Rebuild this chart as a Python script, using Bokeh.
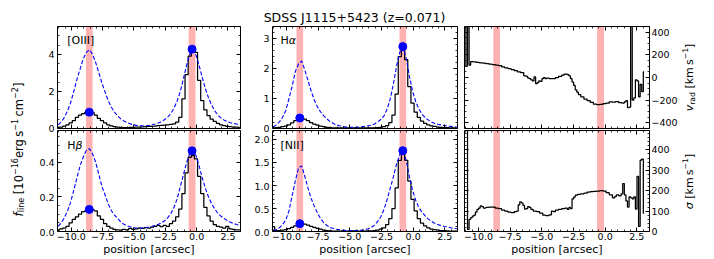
import math
from bokeh.plotting import figure
from bokeh.models import Range1d, LinearAxis, FixedTicker, Label, BoxAnnotation, CustomJSTickFormatter
from bokeh.layouts import row, column
from bokeh.embed import file_html
from bokeh.resources import INLINE

FONT = "DejaVu Sans"

# ---------------- data ----------------
pos = [-11.05, -10.8, -10.55, -10.3, -10.05, -9.8, -9.55, -9.3, -9.05, -8.8,
       -8.55, -8.3, -8.05, -7.8, -7.55, -7.3, -7.05, -6.8, -6.55, -6.3,
       -6.05, -5.8, -5.55, -5.3, -5.05, -4.8, -4.55, -4.3, -4.05, -3.8,
       -3.55, -3.3, -3.05, -2.8, -2.55, -2.3, -2.05, -1.8, -1.55, -1.3,
       -1.05, -0.8, -0.55, -0.3, -0.05, 0.2, 0.45, 0.7, 0.95, 1.2,
       1.45, 1.7, 1.95, 2.2, 2.45, 2.7, 2.95, 3.2, 3.45]

oiii_obs = [0.05, 0.08, 0.13, 0.20, 0.30, 0.42, 0.60, 0.72, 0.80, 0.87,
            0.90, 0.85, 0.72, 0.55, 0.42, 0.30, 0.20, 0.14, 0.10, 0.07,
            0.06, 0.05, 0.05, 0.06, 0.06, 0.07, 0.08, 0.09, 0.10, 0.11,
            0.12, 0.13, 0.15, 0.17, 0.18, 0.20, 0.22, 0.25, 0.35, 0.60,
            1.60, 2.90, 3.90, 4.20, 4.10, 2.60, 1.50, 1.00, 0.70, 0.50,
            0.38, 0.28, 0.20, 0.15, 0.12, 0.10, 0.08, 0.07, 0.06]
oiii_mod = [0.20, 0.35, 0.60, 0.95, 1.40, 2.00, 2.65, 3.20, 3.75, 4.10,
            4.25, 4.00, 3.55, 3.00, 2.45, 1.95, 1.50, 1.15, 0.88, 0.68,
            0.52, 0.40, 0.32, 0.25, 0.20, 0.17, 0.15, 0.14, 0.15, 0.17,
            0.20, 0.24, 0.30, 0.38, 0.48, 0.62, 0.82, 1.10, 1.50, 2.00,
            2.70, 3.40, 4.00, 4.25, 3.95, 3.40, 2.75, 2.15, 1.65, 1.25,
            0.95, 0.72, 0.56, 0.45, 0.37, 0.31, 0.27, 0.24, 0.22]
ha_obs = [0.02, 0.03, 0.04, 0.06, 0.08, 0.12, 0.19, 0.26, 0.33, 0.35,
          0.31, 0.26, 0.20, 0.15, 0.11, 0.08, 0.06, 0.04, 0.03, 0.02,
          0.02, 0.02, 0.02, 0.02, 0.02, 0.02, 0.02, 0.02, 0.02, 0.02,
          0.02, 0.02, 0.02, 0.03, 0.04, 0.06, 0.10, 0.20, 0.45, 1.15,
          2.40, 2.70, 2.30, 1.40, 0.85, 0.55, 0.37, 0.25, 0.17, 0.12,
          0.09, 0.07, 0.05, 0.04, 0.03, 0.03, 0.02, 0.02, 0.02]
ha_mod = [0.05, 0.12, 0.22, 0.38, 0.60, 1.00, 1.40, 1.90, 2.15, 2.25,
          1.95, 1.60, 1.25, 0.95, 0.72, 0.55, 0.42, 0.32, 0.23, 0.17,
          0.12, 0.09, 0.07, 0.05, 0.04, 0.04, 0.04, 0.05, 0.06, 0.07,
          0.09, 0.11, 0.15, 0.22, 0.30, 0.42, 0.65, 1.00, 1.50, 2.10,
          2.55, 2.70, 2.35, 1.75, 1.25, 0.90, 0.65, 0.48, 0.36, 0.28,
          0.22, 0.17, 0.14, 0.12, 0.10, 0.08, 0.07, 0.06, 0.05]
hb_obs = [0.010, 0.015, 0.020, 0.030, 0.050, 0.070, 0.085, 0.100, 0.115, 0.120,
          0.130, 0.125, 0.120, 0.090, 0.070, 0.045, 0.030, 0.020, 0.012, 0.010,
          0.008, 0.012, 0.010, 0.018, 0.012, 0.015, 0.020, 0.018, 0.022, 0.020,
          0.025, 0.030, 0.035, 0.028, 0.035, 0.030, 0.045, 0.060, 0.085, 0.130,
          0.220, 0.340, 0.430, 0.440, 0.420, 0.320, 0.220, 0.140, 0.090, 0.060,
          0.040, 0.030, 0.025, 0.020, 0.030, 0.015, 0.012, 0.010, 0.010]
hb_mod = [0.030, 0.050, 0.080, 0.120, 0.170, 0.240, 0.310, 0.380, 0.430, 0.470,
          0.480, 0.450, 0.400, 0.330, 0.260, 0.210, 0.160, 0.120, 0.095, 0.075,
          0.055, 0.042, 0.033, 0.027, 0.022, 0.020, 0.020, 0.021, 0.023, 0.026,
          0.030, 0.035, 0.042, 0.050, 0.062, 0.080, 0.105, 0.140, 0.190, 0.260,
          0.330, 0.400, 0.450, 0.470, 0.440, 0.380, 0.310, 0.250, 0.200, 0.160,
          0.130, 0.105, 0.088, 0.075, 0.063, 0.054, 0.046, 0.040, 0.035]
nii_obs = [0.10, 0.02, 0.02, 0.03, 0.04, 0.06, 0.09, 0.12, 0.15, 0.17,
           0.16, 0.14, 0.11, 0.09, 0.07, 0.05, 0.03, 0.02, 0.015, 0.01,
           0.01, 0.01, 0.012, 0.01, 0.01, 0.012, 0.01, 0.01, 0.012, 0.01,
           0.012, 0.015, 0.02, 0.03, 0.05, 0.08, 0.15, 0.28, 0.50, 0.95,
           1.55, 1.72, 1.55, 1.10, 0.70, 0.45, 0.28, 0.18, 0.12, 0.08,
           0.05, 0.04, 0.03, 0.02, 0.02, 0.015, 0.01, 0.01, 0.01]
nii_mod = [0.02, 0.04, 0.08, 0.15, 0.25, 0.45, 0.78, 1.10, 1.38, 1.43,
           1.20, 0.95, 0.72, 0.55, 0.40, 0.28, 0.19, 0.13, 0.09, 0.065,
           0.05, 0.04, 0.03, 0.025, 0.022, 0.02, 0.022, 0.025, 0.03, 0.04,
           0.06, 0.09, 0.14, 0.22, 0.32, 0.48, 0.70, 0.95, 1.20, 1.48,
           1.68, 1.75, 1.55, 1.20, 0.90, 0.68, 0.52, 0.42, 0.34, 0.27,
           0.22, 0.18, 0.15, 0.13, 0.11, 0.10, 0.08, 0.07, 0.06]

vrad_pos = [-11.05, -10.925, -10.8, -10.675, -10.55, -10.3, -10.05, -9.8, -9.55, -9.3,
            -9.05, -8.8, -8.55, -8.3, -8.05, -7.8, -7.55, -7.3, -7.05, -6.8,
            -6.55, -6.3, -6.175, -6.05, -5.925, -5.8, -5.675, -5.55, -5.425, -5.3,
            -5.175, -5.05, -4.925, -4.8, -4.675, -4.55, -4.3, -4.05, -3.8, -3.55,
            -3.3, -3.175, -3.05, -2.925, -2.8, -2.675, -2.55, -2.425, -2.3, -2.175,
            -2.05, -1.8, -1.55, -1.3, -1.05, -0.8, -0.55, -0.3, -0.05, 0.2,
            0.45, 0.7, 0.95, 1.2, 1.45, 1.575, 1.7, 1.825, 1.95, 2.075,
            2.2, 2.325, 2.45, 2.575, 2.7, 2.825, 2.95, 3.075]
vrad = [520, 100, 480, 110, 140, 138, 133, 130, 127, 123,
        118, 114, 110, 104, 93, 85, 78, 70, 60, 50,
        42, 15, 10, -5, -10, -20, -30, 5, -55, -45,
        -30, -35, -10, 0, -10, -5, -10, -10, 0, 10,
        20, 30, 30, 25, 15, -10, -40, -70, -110, -130,
        -150, -170, -190, -205, -220, -235, -240, -238, -230, -225,
        -215, -218, -212, -222, -225, -215, -205, -265, -262, 520,
        -200, -180, -20, -30, -170, -60, -125, 50]

sig_pos = [-11.05, -10.925, -10.8, -10.675, -10.55, -10.425, -10.3, -10.175, -10.05, -9.925,
           -9.8, -9.675, -9.55, -9.3, -9.05, -8.8, -8.55, -8.3, -8.05, -7.8,
           -7.55, -7.3, -7.05, -6.925, -6.8, -6.675, -6.55, -6.425, -6.3, -6.175,
           -6.05, -5.925, -5.8, -5.55, -5.3, -5.05, -4.8, -4.55, -4.3, -4.175,
           -4.05, -3.8, -3.55, -3.3, -3.05, -2.925, -2.8, -2.675, -2.55, -2.425,
           -2.3, -2.05, -1.8, -1.55, -1.3, -1.05, -0.8, -0.55, -0.3, -0.05,
           0.2, 0.45, 0.7, 0.825, 0.95, 1.2, 1.325, 1.45, 1.575, 1.7,
           1.825, 1.95, 2.075, 2.2, 2.325, 2.45, 2.575, 2.7, 2.825, 2.95,
           3.075]
sigma = [560, 520, 10, 60, 68, 75, 80, 95, 108, 115,
         125, 122, 115, 118, 120, 120, 115, 112, 105, 100,
         95, 92, 98, 100, 130, 145, 140, 128, 110, 112,
         122, 118, 108, 100, 98, 90, 80, 78, 82, 100,
         98, 105, 108, 112, 115, 108, 118, 112, 160, 168,
         178, 182, 185, 188, 193, 196, 197, 198, 200, 198,
         190, 180, 165, 172, 180, 175, 185, 235, 180, 150,
         120, 170, 165, 160, 170, 110, 270, 25, 350, 355,
         90]

# apertures (shaded) and aperture fluxes (dots)
band_left_a = [-8.83, -0.64]
band_right_a = [-8.30, -0.09]
band_left_b = [-9.21, -1.08]
band_right_b = [-8.68, -0.55]
dot_x_a = [-8.565, -0.365]
dot_x_b = [-8.945, -0.815]
oiii_dot = [0.88, 4.28]
ha_dot = [0.35, 2.73]
hb_dot = [0.128, 0.467]
nii_dot = [0.17, 1.76]

x_major = [-10, -7.5, -5, -2.5, 0, 2.5]
x_minor = [-11, -10.5, -10, -9.5, -9, -8.5, -8, -7.5, -7, -6.5, -6, -5.5, -5, -4.5, -4,
           -3.5, -3, -2.5, -2, -1.5, -1, -0.5, 0, 0.5, 1, 1.5, 2, 2.5, 3, 3.5]
x_labels = {-10: "\u221210.0", -7.5: "\u22127.5", -5: "\u22125.0", -2.5: "\u22122.5",
            0: "0.0", 2.5: "2.5"}
XR = (-11.1, 3.5)

oiii_yr = (0, 5.5)
oiii_ymaj = [0, 2, 4]
oiii_ymin = [0.5, 1, 1.5, 2, 2.5, 3, 3.5, 4, 4.5, 5, 5.5]
oiii_ylab = {0: "0", 2: "2", 4: "4"}
ha_yr = (0, 3.4)
ha_ymaj = [0, 1, 2, 3]
ha_ymin = [0.2, 0.4, 0.6, 0.8, 1.2, 1.4, 1.6, 1.8, 2.2, 2.4, 2.6, 2.8, 3.2]
ha_ylab = {0: "0", 1: "1", 2: "2", 3: "3"}
hb_yr = (0, 0.585)
hb_ymaj = [0.0, 0.2, 0.4]
hb_ymin = [0.05, 0.1, 0.15, 0.25, 0.3, 0.35, 0.45, 0.5, 0.55]
hb_ylab = {0.0: "0.0", 0.2: "0.2", 0.4: "0.4"}
nii_yr = (0, 2.2)
nii_ymaj = [0.0, 0.5, 1.0, 1.5, 2.0]
nii_ymin = [0.1, 0.2, 0.3, 0.4, 0.6, 0.7, 0.8, 0.9, 1.1, 1.2, 1.3, 1.4, 1.6, 1.7, 1.8, 1.9, 2.1]
nii_ylab = {0.0: "0.0", 0.5: "0.5", 1.0: "1.0", 1.5: "1.5", 2.0: "2.0"}
v_yr = (-450, 450)
v_ymaj = [-400, -200, 0, 200, 400]
v_ymin = [-450, -350, -300, -250, -150, -100, -50, 50, 100, 150, 250, 300, 350, 450]
v_ylab = {-400: "\u2212400", -200: "\u2212200", 0: "0", 200: "200", 400: "400"}
s_yr = (0, 495)
s_ymaj = [0, 100, 200, 300, 400]
s_ymin = [20, 40, 60, 80, 120, 140, 160, 180, 220, 240, 260, 280, 320, 340, 360, 380, 420, 440, 460, 480]
s_ylab = {0: "0", 100: "100", 200: "200", 300: "300", 400: "400"}

# ---------------- geometry (pixels) ----------------
W_TOTAL = 713
TITLE_H = 25
TOP_T, TOP_B = 1, 1
BOT_T, BOT_B = 1, 26
FH = 102
FW_A, FW_B, FW_C = 183, 185, 186
LEFT_W, MID_W = 56, 28
A_L, A_R = 1, 2
B_L, B_R = 2, 3
C_L, C_R = 4, 30
RIGHT_W = W_TOTAL - (LEFT_W + A_L + FW_A + A_R + MID_W + B_L + FW_B + B_R + C_L + FW_C + C_R)
STRIP_H = TOP_T + FH + TOP_B + BOT_T + FH + BOT_B
TOP_FRAME_BOTTOM = TOP_T + FH
BOT_FRAME_BOTTOM = TOP_T + FH + TOP_B + BOT_T + FH
TICK_FS = "9.5px"
LAB_FS = 11.0

# ---------------- helpers ----------------
CW = {' ': 0.318, '[': 0.390, ']': 0.390, '\u2212': 0.838, 'k': 0.579, 'm': 0.974,
      's': 0.521, 'e': 0.615, 'r': 0.411, 'g': 0.635, 'c': 0.550, 'a': 0.613,
      'd': 0.635, 'l': 0.278, 'i': 0.278, 'n': 0.634, 'f': 0.352, 'v': 0.592,
      '\u03c3': 0.634, '\u2009': 0.200, 'H': 0.752}
for ch in "0123456789":
    CW[ch] = 0.636


def tw(s, size):
    return sum(CW.get(c, 0.6) for c in s) * size


def add_pieces(p, x, y, pieces, rotated=False, dx=0.0, dy=0.0):
    along = 0.0
    for text, size, italic, shift in pieces:
        lead = len(text) - len(text.lstrip(" "))
        along += lead * CW[" "] * size       # leading blanks become an offset
        text = text.lstrip(" ")
        if rotated:
            xo, yo = dx + shift, dy + along
        else:
            xo, yo = dx + along, dy - shift
        p.add_layout(Label(x=x, y=y, x_offset=xo, y_offset=yo, text=text,
                           angle=(math.pi / 2 if rotated else 0.0),
                           text_align="left", text_baseline="alphabetic",
                           text_font=FONT, text_font_size=f"{size:.2f}px",
                           text_font_style=("italic" if italic else "normal"),
                           text_color="black"))
        along += tw(text, size)
    return along


def add_axis(p, side, major, minor, labels=None, axis_label=None):
    ax = LinearAxis(ticker=FixedTicker(ticks=major, minor_ticks=minor))
    ax.axis_line_color = None
    ax.major_tick_in = 4
    ax.major_tick_out = 0
    ax.minor_tick_in = 2
    ax.minor_tick_out = 0
    ax.major_tick_line_color = "black"
    ax.minor_tick_line_color = "black"
    ax.major_tick_line_width = 1
    ax.minor_tick_line_width = 0.8
    if labels is None:
        ax.formatter = CustomJSTickFormatter(code="return ''")
        ax.major_label_text_font_size = "0px"
        ax.major_label_text_color = None
        ax.major_label_standoff = 0
    else:
        ax.major_label_overrides = labels
        ax.major_label_text_font = FONT
        ax.major_label_text_font_size = TICK_FS
        ax.major_label_text_color = "black"
        ax.major_label_standoff = 1 if side == "below" else 2
    if axis_label is not None:
        ax.axis_label = axis_label
        ax.axis_label_text_font = FONT
        ax.axis_label_text_font_size = "11px"
        ax.axis_label_text_font_style = "normal"
        ax.axis_label_text_color = "black"
        ax.axis_label_standoff = 0
    p.add_layout(ax, side)


def make_fig(fw, mbl, mbr, mbt, mbb, yr):
    p = figure(width=mbl + fw + mbr, height=mbt + FH + mbb,
               x_range=Range1d(*XR), y_range=Range1d(*yr),
               x_axis_location=None, y_axis_location=None,
               toolbar_location=None, output_backend="svg",
               min_border_left=mbl, min_border_right=mbr,
               min_border_top=mbt, min_border_bottom=mbb)
    p.grid.visible = False
    p.outline_line_color = "black"
    p.outline_line_width = 1
    p.background_fill_color = "white"
    p.border_fill_color = "white"
    return p


def make_blank(w, h):
    p = figure(width=w, height=h, x_range=Range1d(0, w), y_range=Range1d(0, h),
               x_axis_location=None, y_axis_location=None, toolbar_location=None,
               output_backend="svg", min_border=0)
    p.grid.visible = False
    p.outline_line_color = None
    p.background_fill_color = "white"
    p.border_fill_color = "white"
    return p


def shade(p, bl, br):
    for l, r in zip(bl, br):
        p.add_layout(BoxAnnotation(left=l, right=r, fill_color="red", fill_alpha=0.3,
                                   line_color=None, level="underlay"))


def flux_panel(p, obs, mod, dx, dy, bl, br):
    shade(p, bl, br)
    p.step(pos, obs, mode="center", line_color="black", line_width=1.25)
    p.line(pos, mod, line_color="blue", line_dash="4 2", line_width=1.1)
    p.scatter(dx, dy, size=8, fill_color="blue", line_color="blue")


def frame_axes(p, ymaj, ymin, right_labels=None, bottom_labels=None):
    add_axis(p, "left", ymaj, ymin)
    add_axis(p, "right", ymaj, ymin, right_labels)
    add_axis(p, "above", x_major, x_minor)
    if bottom_labels is None:
        add_axis(p, "below", x_major, x_minor)
    else:
        add_axis(p, "below", x_major, x_minor, bottom_labels, "position [arcsec]")


def tick_labels(strip, x_right, frame_bottom_from_top, yr, major, labels):
    # y tick labels of a panel, drawn in the strip next to it
    ppu = FH / (yr[1] - yr[0])
    for v in major:
        y_from_top = frame_bottom_from_top - (v - yr[0]) * ppu
        strip.add_layout(Label(x=x_right, y=STRIP_H - y_from_top, text=labels[v],
                               text_align="right", text_baseline="middle",
                               text_font=FONT, text_font_size=TICK_FS,
                               text_color="black"))


# ---------------- title ----------------
title = make_blank(W_TOTAL, TITLE_H)
title.add_layout(Label(x=354, y=TITLE_H - 16.7, text="SDSS J1115+5423 (z=0.071)",
                       text_align="center", text_baseline="alphabetic",
                       text_font=FONT, text_font_size="12.5px", text_color="black"))

# ---------------- panels ----------------
pA = make_fig(FW_A, A_L, A_R, TOP_T, TOP_B, oiii_yr)
flux_panel(pA, oiii_obs, oiii_mod, dot_x_a, oiii_dot, band_left_a, band_right_a)
frame_axes(pA, oiii_ymaj, oiii_ymin)

pB = make_fig(FW_B, B_L, B_R, TOP_T, TOP_B, ha_yr)
flux_panel(pB, ha_obs, ha_mod, dot_x_b, ha_dot, band_left_b, band_right_b)
frame_axes(pB, ha_ymaj, ha_ymin)

pC = make_fig(FW_C, C_L, C_R, TOP_T, TOP_B, v_yr)
shade(pC, band_left_a, band_right_a)
pC.step(vrad_pos, vrad, mode="center", line_color="black", line_width=1.25)
frame_axes(pC, v_ymaj, v_ymin, right_labels=v_ylab)

pD = make_fig(FW_A, A_L, A_R, BOT_T, BOT_B, hb_yr)
flux_panel(pD, hb_obs, hb_mod, dot_x_a, hb_dot, band_left_a, band_right_a)
frame_axes(pD, hb_ymaj, hb_ymin, bottom_labels=x_labels)

pE = make_fig(FW_B, B_L, B_R, BOT_T, BOT_B, nii_yr)
flux_panel(pE, nii_obs, nii_mod, dot_x_b, nii_dot, band_left_b, band_right_b)
frame_axes(pE, nii_ymaj, nii_ymin, bottom_labels=x_labels)

pF = make_fig(FW_C, C_L, C_R, BOT_T, BOT_B, s_yr)
shade(pF, band_left_a, band_right_a)
pF.step(sig_pos, sigma, mode="center", line_color="black", line_width=1.25)
frame_axes(pF, s_ymaj, s_ymin, right_labels=s_ylab, bottom_labels=x_labels)

# panel names (offsets in pixels from the top-left frame corner)
add_pieces(pA, XR[0], oiii_yr[1], [("[OIII]", LAB_FS, False, 0)], dx=9.7, dy=-14.3)
add_pieces(pB, XR[0], ha_yr[1], [("H", LAB_FS, False, 0), ("\u03b1", LAB_FS, True, 0)], dx=8.0, dy=-13.5)
add_pieces(pD, XR[0], hb_yr[1], [("H", LAB_FS, False, 0), ("\u03b2", LAB_FS, True, 0)], dx=9.7, dy=-14.5)
add_pieces(pE, XR[0], nii_yr[1], [("[NII]", LAB_FS, False, 0)], dx=8.0, dy=-14.5)

# ---------------- left strip: shared y label + tick labels of A and D ----------------
left = make_blank(LEFT_W, STRIP_H)
tick_labels(left, LEFT_W - 2 + A_L - 1, TOP_FRAME_BOTTOM, oiii_yr, oiii_ymaj, oiii_ylab)
tick_labels(left, LEFT_W - 2 + A_L - 1, BOT_FRAME_BOTTOM, hb_yr, hb_ymaj, hb_ylab)
FL = 11.5
fl_pieces = [("f", FL, True, 0), ("line", 0.7 * FL, False, 2.5), (" [10", FL, False, 0),
             ("\u221216", 0.7 * FL, False, -4.5), ("erg\u2009s", FL, False, 0),
             ("\u22121", 0.7 * FL, False, -4.5), ("\u2009cm", FL, False, 0),
             ("\u22122", 0.7 * FL, False, -4.5), ("]", FL, False, 0)]
L = sum(tw(t, s) for t, s, _, _ in fl_pieces)
add_pieces(left, 18, STRIP_H - (149 - TITLE_H) - L / 2, fl_pieces, rotated=True)

# ---------------- middle strip: tick labels of B and E ----------------
mid = make_blank(MID_W, STRIP_H)
tick_labels(mid, MID_W + B_L - 3, TOP_FRAME_BOTTOM, ha_yr, ha_ymaj, ha_ylab)
tick_labels(mid, MID_W + B_L - 3, BOT_FRAME_BOTTOM, nii_yr, nii_ymaj, nii_ylab)

# ---------------- right strip: y labels of C and F ----------------
right = make_blank(RIGHT_W, STRIP_H)
vr_pieces = [("v", LAB_FS, True, 0), ("rad", 0.7 * LAB_FS, False, 2.5),
             (" [km\u2009s", LAB_FS, False, 0), ("\u22121", 0.7 * LAB_FS, False, -4.3),
             ("]", LAB_FS, False, 0)]
sg_pieces = [("\u03c3", LAB_FS, True, 0), (" [km\u2009s", LAB_FS, False, 0),
             ("\u22121", 0.7 * LAB_FS, False, -4.3), ("]", LAB_FS, False, 0)]
for pieces, fb in ((vr_pieces, TOP_FRAME_BOTTOM), (sg_pieces, BOT_FRAME_BOTTOM)):
    L = sum(tw(t, s) for t, s, _, _ in pieces)
    centre_from_top = fb - FH / 2
    add_pieces(right, 9, STRIP_H - centre_from_top - L / 2, pieces, rotated=True)

layout = column(title,
                row(left, column(pA, pD), mid, column(pB, pE), column(pC, pF), right))
open("out.html", "w").write(file_html(layout, INLINE))
